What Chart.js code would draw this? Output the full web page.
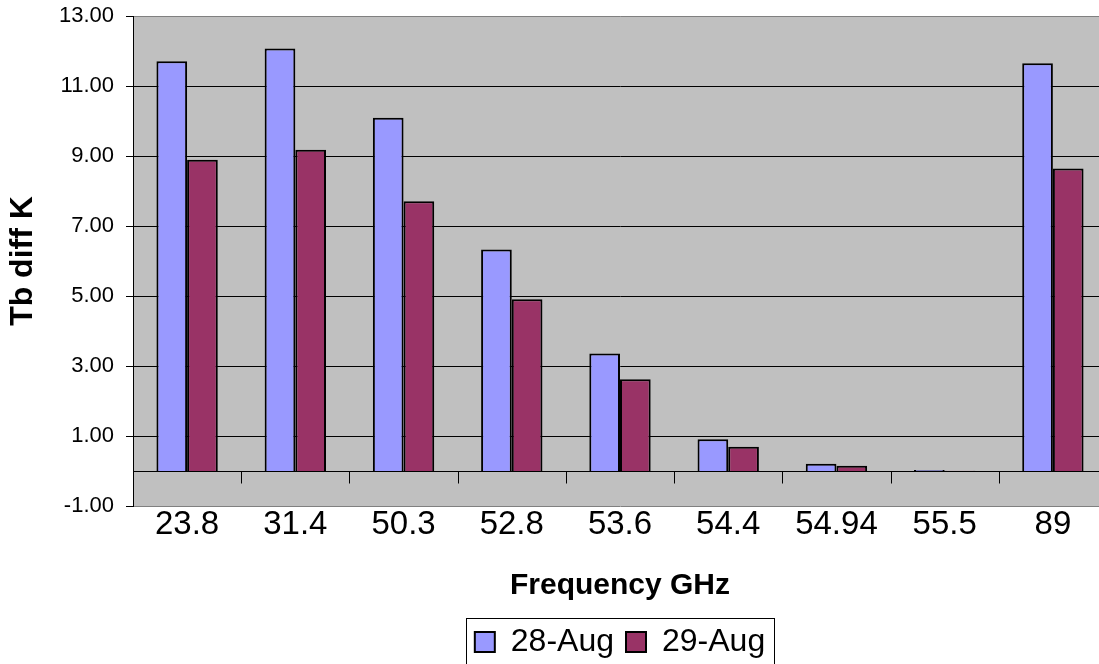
<!DOCTYPE html>
<html>
<head>
<meta charset="utf-8">
<script src="https://cdn.jsdelivr.net/npm/chart.js@4"></script>
<style>
  html, body { margin: 0; padding: 0; background: #fff; overflow: hidden; }
  #wrap { width: 1110px; height: 664px; }
</style>
</head>
<body>
<div id="wrap"><canvas id="tbChart" width="1110" height="664"></canvas></div>
<script>
// frequencies (GHz) and brightness temperature differences (K)
const categories = ["23.8", "31.4", "50.3", "52.8", "53.6", "54.4", "54.94", "55.5", "89"];
const aug28 = [11.71, 12.07, 10.09, 6.33, 3.36, 0.91, 0.21, 0.03, 11.65];
const aug29 = [8.89, 9.18, 7.71, 4.91, 2.62, 0.69, 0.15, 0.01, 8.64];
const seriesNames = ["28-Aug", "29-Aug"];
const yMin = -1, yMax = 13, yStep = 2;

const FONT = "'Liberation Sans', Arial, sans-serif";

// grey plot background, zero line with category ticks, legend frame
const excelLook = {
    id: "excelLook",
    afterLayout(chart) {
        // centre the legend under the plot area rather than the canvas
        let lg = chart.legend, a = chart.chartArea;
        lg.left = a.left + a.right - lg.right;
        lg.top += 4;
        lg.bottom += 4;
    },
    beforeDraw(chart) {
        let a = chart.chartArea, c = chart.ctx;
        c.save();
        c.fillStyle = "#c0c0c0";
        c.fillRect(a.left, a.top, a.right - a.left, a.bottom - a.top);
        c.restore();
    },
    afterDatasetsDraw(chart) {
        let a = chart.chartArea, c = chart.ctx;
        let x = chart.scales.x, y = chart.scales.y;
        let y0 = Math.round(y.getPixelForValue(0)) + 0.5;
        let half = (x.getPixelForValue(1) - x.getPixelForValue(0)) / 2;
        c.save();
        c.strokeStyle = "#000";
        c.lineWidth = 1;
        c.beginPath();
        c.moveTo(a.left, y0);
        c.lineTo(a.right, y0);
        for (let i = 0; i <= categories.length; i++) {
            let px = Math.round(x.getPixelForValue(i) - half) + 0.5;
            c.moveTo(px, y0);
            c.lineTo(px, y0 + 12);
        }
        c.stroke();
        c.restore();
    },
    afterDraw(chart) {
        let boxes = chart.legend.legendHitBoxes;
        if (!boxes || !boxes.length) return;
        let c = chart.ctx;
        let l = Math.min(...boxes.map(b => b.left)) - 9;
        let r = Math.max(...boxes.map(b => b.left + b.width)) + 9;
        let t = Math.min(...boxes.map(b => b.top)) - 8;
        c.save();
        c.strokeStyle = "#000";
        c.lineWidth = 1;
        c.strokeRect(Math.round(l) + 0.5, Math.round(t) + 0.5, Math.round(r - l), 60);
        c.restore();
    }
};

new Chart(document.getElementById("tbChart"), {
    type: "bar",
    data: {
        labels: categories,
        datasets: [
            { label: seriesNames[0], data: aug28, backgroundColor: "#9999ff", borderColor: "#000", borderWidth: 2 },
            { label: seriesNames[1], data: aug29, backgroundColor: "#993366", borderColor: "#000", borderWidth: 2 }
        ]
    },
    options: {
        responsive: false,
        animation: false,
        devicePixelRatio: 1,
        datasets: { bar: { categoryPercentage: 0.567, barPercentage: 1.0 } },
        layout: { padding: { top: 16, right: 3, left: 0, bottom: 0 } },
        plugins: {
            tooltip: { enabled: false },
            legend: {
                position: "bottom",
                labels: {
                    color: "#000",
                    font: { family: FONT, size: 32 },
                    boxWidth: 20,
                    boxHeight: 20,
                    padding: 12
                }
            }
        },
        scales: {
            x: {
                grid: { display: false, drawTicks: false },
                border: { display: false },
                ticks: { color: "#000", font: { family: FONT, size: 33, lineHeight: 1.0 }, padding: 2, maxRotation: 0, autoSkip: false },
                title: { display: true, text: "Frequency GHz", color: "#000", font: { family: FONT, size: 30, weight: "bold" }, padding: { top: 14, bottom: 6 } },
                afterFit: s => { s.height = 104; s.paddingLeft = 0; s.paddingRight = 0; }
            },
            y: {
                min: yMin,
                max: yMax,
                ticks: {
                    stepSize: yStep,
                    color: "#000",
                    font: { family: FONT, size: 22 },
                    padding: 12,
                    callback: v => v.toFixed(2)
                },
                grid: {
                    color: ctx => (ctx.tick && (ctx.tick.value === yMax || ctx.tick.value === yMin)) ? "#808080" : "#000",
                    tickColor: "#000",
                    tickLength: 7,
                    lineWidth: 1
                },
                border: { color: "#000", width: 1 },
                title: { display: true, text: "Tb diff K", color: "#000", font: { family: FONT, size: 32, weight: "bold" }, padding: { top: 4, bottom: 0 } },
                afterFit: s => { s.width = 133; s.paddingTop = 0; s.paddingBottom = 0; }
            }
        }
    },
    plugins: [excelLook]
});
</script>
</body>
</html>
